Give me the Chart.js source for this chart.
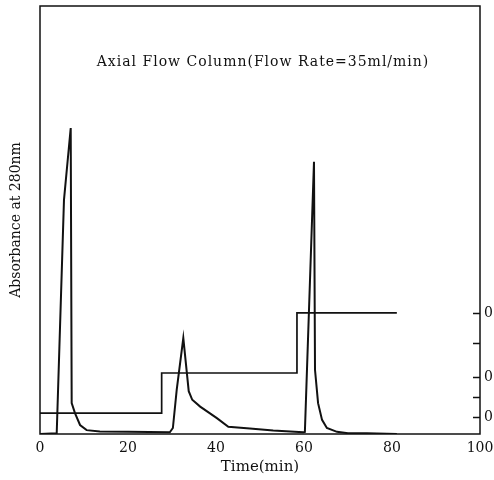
<!DOCTYPE html>
<html lang="en">

<head>
    <meta charset="UTF-8">
    <title>Axial Flow Column</title>
    <script src="https://cdn.jsdelivr.net/npm/chart.js"></script>
    <style>
        html, body { margin: 0; padding: 0; background: #fff; overflow: hidden; }
        .chart-container { position: relative; width: 520px; height: 480px; }
    </style>
</head>

<body>
    <div class="chart-container">
        <canvas id="elutionChart"></canvas>
    </div>
    <script>
        // absorbance trace (time in min, absorbance in relative units)
        const absTime = [0, 3.8, 5.45, 6.98, 7.2, 7.95, 9.1, 10.6, 13.6, 20, 29.5, 30.2, 31.07, 32.57, 33.8, 34.6, 36.4, 40.2, 42.8, 47.7, 53, 59.8, 60.2, 62.27, 62.5, 63.2, 64.1, 65.2, 67.5, 70, 74.3, 81.1];
        const absValue = [0, 0.002, 0.547, 0.715, 0.072, 0.049, 0.021, 0.009, 0.006, 0.005, 0.004, 0.014, 0.103, 0.224, 0.1, 0.08, 0.064, 0.037, 0.017, 0.013, 0.008, 0.004, 0.005, 0.636, 0.15, 0.072, 0.033, 0.014, 0.005, 0.002, 0.002, 0];

        // step gradient (right axis)
        const stepTime = [0, 27.65, 27.65, 58.4, 58.4, 81.1];
        const stepValue = [0.049, 0.049, 0.1425, 0.1425, 0.283, 0.283];

        // right axis ticks (labels are cut off by the page edge)
        const rightTickValues = [0.04, 0.086, 0.133, 0.213, 0.283];
        const rightTickLabels = ['0.1', '', '0.2', '', '0.3'];

        const xTicks = [0, 20, 40, 60, 80, 100];

        const serif = 'DejaVu Serif';

        // fixed axis boxes so the plot area sits where the scan has it
        function fixBox(width, height) {
            return scale => {
                if (width) scale.width = width;
                if (height) scale.height = height;
                scale.paddingTop = 0;
                scale.paddingBottom = 0;
                scale.paddingLeft = 0;
                scale.paddingRight = 0;
            };
        }

        // frame box, inward ticks on the right axis and the title inside the plot
        const framePlugin = {
            id: 'frame',
            afterDraw(chart) {
                const ctx = chart.ctx;
                const a = chart.chartArea;
                ctx.save();
                ctx.strokeStyle = '#111';
                ctx.lineWidth = 1.5;
                ctx.strokeRect(a.left, a.top, a.right - a.left, a.bottom - a.top);
                const y2 = chart.scales.y2;
                ctx.beginPath();
                rightTickValues.forEach(v => {
                    const py = Math.round(y2.getPixelForValue(v)) + 0.5;
                    ctx.moveTo(a.right - 7, py);
                    ctx.lineTo(a.right, py);
                });
                ctx.stroke();
                ctx.fillStyle = '#111';
                ctx.font = '14px "' + serif + '"';
                ctx.letterSpacing = '1px';
                ctx.textAlign = 'center';
                ctx.textBaseline = 'middle';
                ctx.fillText('Axial Flow Column(Flow Rate=35ml/min)', (a.left + a.right) / 2 + 3, a.top + 56);
                ctx.restore();
            }
        };

        const ctx = document.getElementById('elutionChart').getContext('2d');
        const elutionChart = new Chart(ctx, {
            type: 'line',
            data: {
                datasets: [{
                    label: 'Absorbance at 280nm',
                    data: absTime.map((t, i) => ({ x: t, y: absValue[i] })),
                    borderColor: '#111',
                    borderWidth: 2,
                    pointRadius: 0,
                    tension: 0,
                    yAxisID: 'y'
                }, {
                    label: 'Gradient',
                    data: stepTime.map((t, i) => ({ x: t, y: stepValue[i] })),
                    borderColor: '#111',
                    borderWidth: 1.7,
                    pointRadius: 0,
                    tension: 0,
                    yAxisID: 'y2'
                }]
            },
            options: {
                responsive: true,
                maintainAspectRatio: false,
                animation: false,
                layout: { padding: { top: 6, left: 0, right: 0, bottom: 0 } },
                plugins: {
                    legend: { display: false },
                    tooltip: { enabled: false }
                },
                scales: {
                    x: {
                        type: 'linear',
                        min: 0,
                        max: 100,
                        afterBuildTicks: scale => { scale.ticks = xTicks.map(v => ({ value: v })); },
                        afterFit: fixBox(0, 46),
                        grid: { display: false, drawTicks: false },
                        border: { display: false },
                        ticks: {
                            color: '#111',
                            padding: 6,
                            maxRotation: 0,
                            font: { family: serif, size: 14 }
                        },
                        title: {
                            display: true,
                            text: 'Time(min)',
                            color: '#111',
                            padding: { top: 0, bottom: 4 },
                            font: { family: serif, size: 15 }
                        }
                    },
                    y: {
                        position: 'left',
                        min: 0,
                        max: 1,
                        afterFit: fixBox(40, 0),
                        grid: { display: false, drawTicks: false },
                        border: { display: false },
                        ticks: { display: false },
                        title: {
                            display: true,
                            text: 'Absorbance at 280nm',
                            color: '#111',
                            padding: { top: 8, bottom: 0 },
                            font: { family: serif, size: 14 }
                        }
                    },
                    y2: {
                        position: 'right',
                        min: 0,
                        max: 1,
                        afterBuildTicks: scale => { scale.ticks = rightTickValues.map(v => ({ value: v })); },
                        afterFit: fixBox(40, 0),
                        grid: { display: false, drawTicks: false },
                        border: { display: false },
                        ticks: {
                            color: '#111',
                            padding: 4,
                            font: { family: serif, size: 14 },
                            callback: (value, index) => rightTickLabels[index]
                        }
                    }
                }
            },
            plugins: [framePlugin]
        });
    </script>
</body>

</html>
